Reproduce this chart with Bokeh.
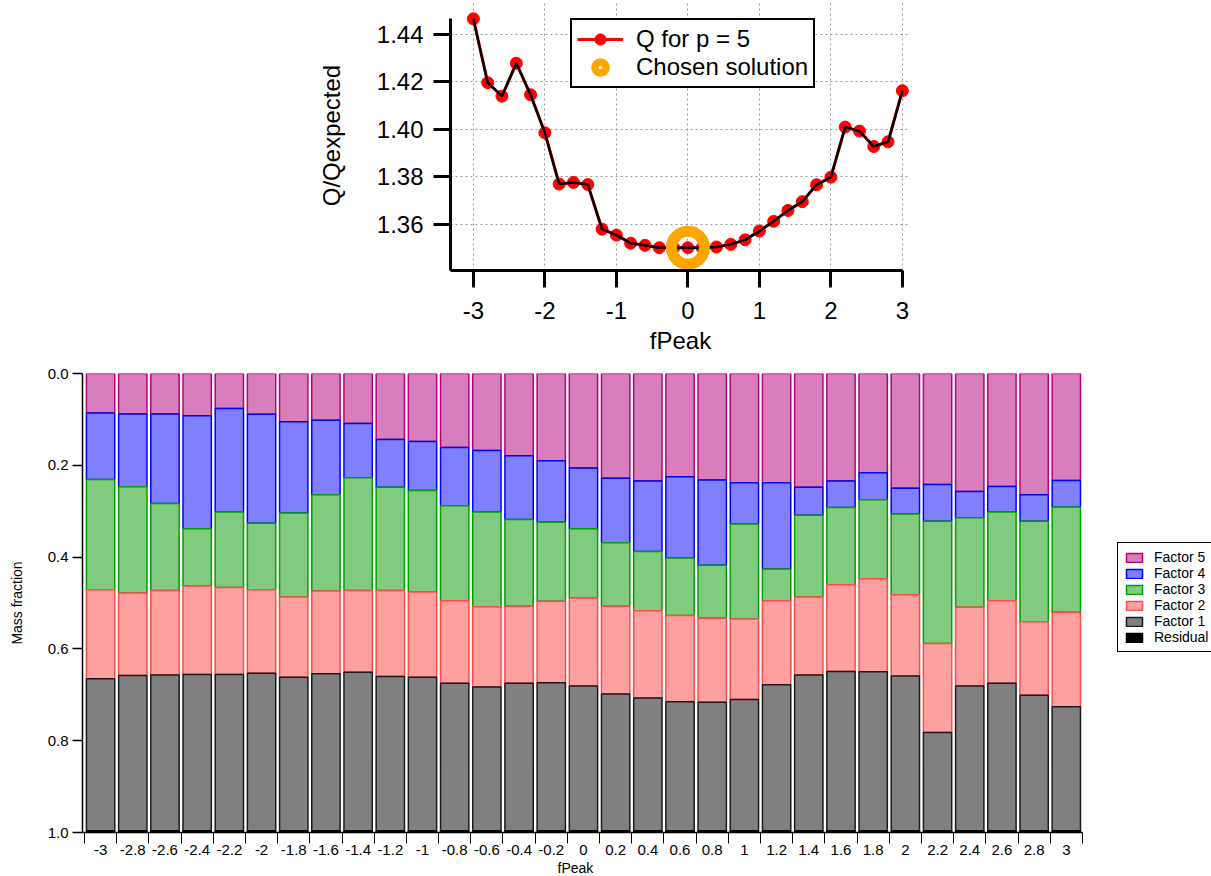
from bokeh.plotting import figure
from bokeh.models import (Range1d, FixedTicker, Legend, LegendItem, Title,
                          ColumnDataSource, PrintfTickFormatter)
from bokeh.embed import file_html
from bokeh.resources import INLINE

FONT = "Liberation Sans"

# ---------------- data: top chart ----------------
fpeak = [-3.0, -2.8, -2.6, -2.4, -2.2, -2.0, -1.8, -1.6, -1.4, -1.2, -1.0,
         -0.8, -0.6, -0.4, -0.2, 0.0, 0.2, 0.4, 0.6, 0.8, 1.0,
         1.2, 1.4, 1.6, 1.8, 2.0, 2.2, 2.4, 2.6, 2.8, 3.0]
q_over_qexp = [1.4466, 1.4197, 1.4140, 1.4279, 1.4146, 1.3986, 1.3770, 1.3777, 1.3768, 1.3580, 1.3555,
               1.3521, 1.3512, 1.3502, 1.3502, 1.3502, 1.3502, 1.3505, 1.3516, 1.3535, 1.3572,
               1.3613, 1.3659, 1.3696, 1.3767, 1.3799, 1.4010, 1.3993, 1.3928, 1.3948, 1.4163]
chosen_fpeak = 0.0
fpeak_ticks = [-3, -2, -1, 0, 1, 2, 3]
fpeak_tick_labels = ["-3", "-2", "-1", "0", "1", "2", "3"]
q_ticks = [1.36, 1.38, 1.40, 1.42, 1.44]

# ---------------- data: bottom chart ----------------
bar_labels = ["-3", "-2.8", "-2.6", "-2.4", "-2.2", "-2", "-1.8", "-1.6", "-1.4", "-1.2", "-1",
              "-0.8", "-0.6", "-0.4", "-0.2", "0", "0.2", "0.4", "0.6", "0.8", "1",
              "1.2", "1.4", "1.6", "1.8", "2", "2.2", "2.4", "2.6", "2.8", "3"]
factor5 = [0.086, 0.088, 0.088, 0.092, 0.076, 0.089, 0.105, 0.102, 0.109, 0.144, 0.148,
           0.161, 0.168, 0.179, 0.190, 0.206, 0.228, 0.234, 0.225, 0.232, 0.238,
           0.238, 0.248, 0.234, 0.216, 0.250, 0.242, 0.257, 0.246, 0.264, 0.233]
factor4 = [0.145, 0.159, 0.195, 0.246, 0.226, 0.237, 0.199, 0.162, 0.118, 0.104, 0.107,
           0.127, 0.134, 0.139, 0.134, 0.132, 0.141, 0.154, 0.177, 0.186, 0.090,
           0.188, 0.061, 0.058, 0.059, 0.056, 0.080, 0.057, 0.056, 0.058, 0.058]
factor3 = [0.240, 0.231, 0.190, 0.125, 0.164, 0.145, 0.183, 0.210, 0.246, 0.225, 0.221,
           0.207, 0.206, 0.189, 0.172, 0.151, 0.138, 0.129, 0.125, 0.115, 0.207,
           0.069, 0.178, 0.168, 0.172, 0.176, 0.266, 0.195, 0.193, 0.219, 0.229]
factor2 = [0.194, 0.180, 0.184, 0.193, 0.190, 0.182, 0.175, 0.180, 0.178, 0.187, 0.186,
           0.180, 0.175, 0.168, 0.178, 0.192, 0.191, 0.190, 0.188, 0.183, 0.175,
           0.183, 0.170, 0.189, 0.203, 0.177, 0.194, 0.172, 0.180, 0.160, 0.206]
factor1 = [0.331, 0.338, 0.339, 0.340, 0.340, 0.343, 0.334, 0.342, 0.345, 0.336, 0.334,
           0.321, 0.313, 0.321, 0.322, 0.315, 0.298, 0.289, 0.281, 0.280, 0.286,
           0.318, 0.339, 0.347, 0.346, 0.337, 0.214, 0.315, 0.321, 0.295, 0.270]
residual = [0.004, 0.004, 0.004, 0.004, 0.004, 0.004, 0.004, 0.004, 0.004, 0.004, 0.004,
            0.004, 0.004, 0.004, 0.004, 0.004, 0.004, 0.004, 0.004, 0.004, 0.004,
            0.004, 0.004, 0.004, 0.004, 0.004, 0.004, 0.004, 0.004, 0.004, 0.004]
factor_names = ["Factor 5", "Factor 4", "Factor 3", "Factor 2", "Factor 1", "Residual"]
mass_ticks = [0.0, 0.2, 0.4, 0.6, 0.8, 1.0]

fills = ["#D97EBC", "#8080FF", "#80CB80", "#FFA0A0", "#808080", "#000000"]
lines = ["#B8007A", "#0000FF", "#00A000", "#FF4A4A", "#1A1A1A", "#000000"]

# ================= top chart =================
top = figure(width=1211, height=366,
             x_range=Range1d(-3.32, 3.1136), y_range=Range1d(1.3406, 1.4543),
             output_backend="svg", toolbar_location=None,
             min_border_left=450, min_border_right=301, min_border_top=0, min_border_bottom=96)
top.outline_line_color = None
top.background_fill_color = "white"

src_q = ColumnDataSource(dict(x=fpeak, y=q_over_qexp))
r_line = top.line("x", "y", source=src_q, line_color="red", line_width=3)
r_pts = top.scatter("x", "y", source=src_q, marker="circle", size=12,
                    fill_color="red", line_color="red")
top.line("x", "y", source=src_q, line_color="black", line_width=2.5)

ci = fpeak.index(chosen_fpeak)
src_c = ColumnDataSource(dict(x=[fpeak[ci]], y=[q_over_qexp[ci]]))
top.scatter("x", "y", source=src_c, marker="circle", size=33, fill_alpha=0,
            line_color="#FFA500", line_width=11)
# legend-only ring glyph (no visible point)
src_nan = ColumnDataSource(dict(x=[float("nan")], y=[float("nan")]))
r_ring_leg = top.scatter("x", "y", source=src_nan, marker="circle", size=12,
                         fill_alpha=0, line_color="#FFA500", line_width=7.5)

for ax in (top.xaxis[0], top.yaxis[0]):
    ax.axis_line_width = 3
    ax.axis_line_color = "black"
    ax.major_tick_line_width = 3
    ax.major_tick_line_color = "black"
    ax.major_tick_out = 17
    ax.major_tick_in = 0
    ax.minor_tick_line_color = None
    ax.major_label_text_font = FONT
    ax.major_label_text_font_size = "24px"
    ax.major_label_text_color = "black"
    ax.axis_label_text_font = FONT
    ax.axis_label_text_font_size = "24px"
    ax.axis_label_text_font_style = "normal"
    ax.axis_label_text_color = "black"

top.xaxis.ticker = FixedTicker(ticks=fpeak_ticks)
top.xaxis.major_label_overrides = {t: l for t, l in zip(fpeak_ticks, fpeak_tick_labels)}
top.xaxis.bounds = (-3.32, 3.0)
top.xaxis.axis_label = "fPeak"
top.xaxis.major_label_standoff = 14
top.xaxis.axis_label_standoff = 5

top.yaxis.ticker = FixedTicker(ticks=q_ticks)
top.yaxis.formatter = PrintfTickFormatter(format="%.2f")
top.yaxis.bounds = (1.3406, 1.4467)
top.yaxis.axis_label = "Q/Qexpected"
top.yaxis.major_label_standoff = 10
top.yaxis.axis_label_standoff = 29

top.xgrid.ticker = FixedTicker(ticks=fpeak_ticks)
top.ygrid.ticker = FixedTicker(ticks=q_ticks)
for g in (top.xgrid[0], top.ygrid[0]):
    g.grid_line_color = "#999999"
    g.grid_line_dash = "2 3"
    g.grid_line_width = 1

leg_top = Legend(items=[LegendItem(label="Q for p = 5", renderers=[r_line, r_pts]),
                        LegendItem(label="Chosen solution", renderers=[r_ring_leg])],
                 location=(120, 182))
leg_top.label_text_font = FONT
leg_top.label_text_font_size = "24px"
leg_top.label_text_color = "black"
leg_top.glyph_width = 46
leg_top.glyph_height = 28
leg_top.label_height = 24
leg_top.spacing = 0
leg_top.padding = 5
leg_top.margin = 0
leg_top.label_standoff = 13
leg_top.border_line_color = "black"
leg_top.border_line_alpha = 1
leg_top.border_line_width = 2
leg_top.background_fill_alpha = 1
top.add_layout(leg_top)

# ================= bottom chart =================
n = len(bar_labels)
centers = [i + 0.5 for i in range(n)]
edges = [float(i) for i in range(n + 1)]

# frame spans to the right edge so the legend (drawn inside it) can sit right of the bars
bot = figure(width=1211, height=510,
             x_range=Range1d(-0.062, 35.01), y_range=Range1d(1.0, 0.0),
             output_backend="svg", toolbar_location=None,
             min_border_left=82, min_border_right=0, min_border_top=7, min_border_bottom=44)
bot.outline_line_color = None
bot.xgrid.visible = False
bot.ygrid.visible = False

src_b = ColumnDataSource(dict(x=centers, f5=factor5, f4=factor4, f3=factor3,
                              f2=factor2, f1=factor1, res=residual))
rs = bot.vbar_stack(["f5", "f4", "f3", "f2", "f1", "res"], x="x", width=0.88, source=src_b,
                    fill_color=fills, line_color=lines, line_width=1.5)

for ax in (bot.xaxis[0], bot.yaxis[0]):
    ax.axis_line_width = 1.5
    ax.axis_line_color = "black"
    ax.major_label_text_font = FONT
    ax.major_label_text_font_size = "15px"
    ax.major_label_text_color = "black"
    ax.axis_label_text_font = FONT
    ax.axis_label_text_font_size = "14px"
    ax.axis_label_text_font_style = "normal"
    ax.axis_label_text_color = "black"

bot.xaxis.ticker = FixedTicker(ticks=centers, minor_ticks=edges)
bot.xaxis.major_label_overrides = {c: l for c, l in zip(centers, bar_labels)}
bot.xaxis.bounds = (-0.062, float(n))
bot.xaxis.major_tick_line_color = None
bot.xaxis.major_tick_out = 8
bot.xaxis.major_tick_in = 0
bot.xaxis.minor_tick_line_color = "black"
bot.xaxis.minor_tick_line_width = 1
bot.xaxis.minor_tick_out = 11
bot.xaxis.minor_tick_in = 0
bot.xaxis.major_label_standoff = 1

# x-axis title centred under the bars (not under the whole frame)
bot_xlabel = Title(text="fPeak", align="left", offset=475, standoff=0,
                   text_font=FONT, text_font_size="14px", text_font_style="normal",
                   text_color="black")
bot.add_layout(bot_xlabel, "below")

bot.yaxis.ticker = FixedTicker(ticks=mass_ticks)
bot.yaxis.formatter = PrintfTickFormatter(format="%.1f")
bot.yaxis.major_tick_out = 10
bot.yaxis.major_tick_in = 0
bot.yaxis.major_tick_line_width = 1.5
bot.yaxis.minor_tick_line_color = None
bot.yaxis.major_label_standoff = 4
bot.yaxis.axis_label = "Mass fraction"
bot.yaxis.axis_label_standoff = 20

leg_bot = Legend(items=[LegendItem(label=nm, renderers=[r]) for nm, r in zip(factor_names, rs)],
                 location=(1035, 180))
leg_bot.label_text_font = FONT
leg_bot.label_text_font_size = "14px"
leg_bot.label_text_color = "black"
leg_bot.glyph_width = 20
leg_bot.glyph_height = 11
leg_bot.label_height = 16
leg_bot.spacing = 0
leg_bot.padding = 6
leg_bot.margin = 0
leg_bot.label_standoff = 10
leg_bot.border_line_color = "black"
leg_bot.border_line_alpha = 1
leg_bot.border_line_width = 1
bot.add_layout(leg_bot)

open("out.html", "w").write(file_html([top, bot], INLINE))
